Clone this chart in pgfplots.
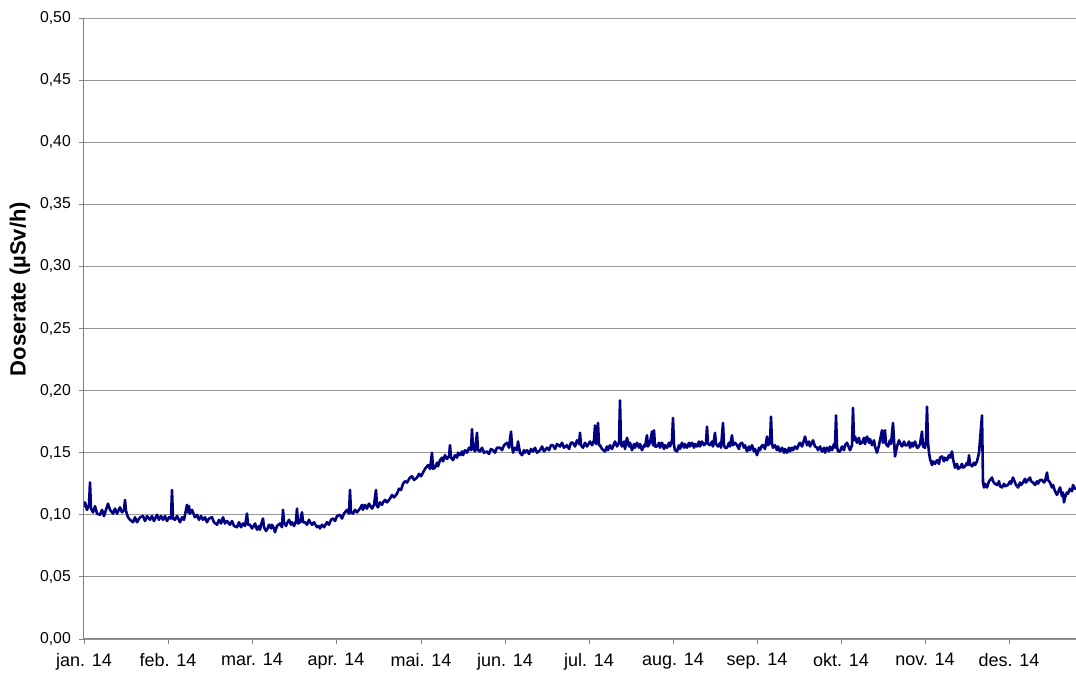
\documentclass[border=0pt]{standalone}
\usepackage{pgfplots}
\pgfplotsset{compat=1.18}
\usepackage{pgfplotstable}
\usepackage{fontspec}
\setmainfont{Liberation Sans}
\definecolor{navyline}{RGB}{0,0,128}
\definecolor{gridgray}{RGB}{150,150,150}
\definecolor{axgray}{RGB}{128,128,128}

% x = time position (jan. 14 = 84, one month = 84.1), y = dose rate in microSv/h
\pgfplotstableread{
x y
84 0.106
85 0.110
87 0.104
89 0.108
90 0.126
91 0.105
93 0.102
95 0.107
97 0.101
100 0.100
102 0.104
104 0.099
106 0.104
108 0.109
110 0.104
113 0.101
115 0.105
117 0.101
120 0.106
122 0.102
124 0.104
125 0.112
126 0.103
128 0.098
130 0.096
133 0.094
135 0.098
137 0.094
140 0.098
143 0.099
145 0.095
147 0.099
150 0.096
152 0.099
154 0.095
157 0.100
159 0.096
161 0.099
163 0.096
165 0.099
167 0.095
169 0.098
171 0.097
172 0.120
173 0.097
175 0.096
177 0.099
180 0.094
182 0.098
184 0.096
186 0.104
187 0.108
188 0.102
189 0.107
190 0.101
192 0.104
195 0.098
197 0.100
199 0.096
201 0.099
203 0.096
205 0.098
207 0.094
209 0.097
212 0.098
214 0.094
217 0.092
219 0.096
221 0.093
223 0.098
225 0.093
227 0.095
230 0.092
232 0.095
234 0.091
237 0.090
239 0.094
241 0.090
243 0.093
245 0.091
247 0.101
248 0.092
250 0.092
252 0.089
253 0.090
255 0.093
257 0.088
259 0.091
260 0.088
261 0.092
263 0.097
264 0.090
266 0.087
267 0.088
269 0.092
271 0.089
272 0.092
274 0.089
275 0.086
277 0.091
280 0.093
282 0.090
283 0.104
284 0.094
286 0.091
287 0.093
289 0.096
291 0.092
292 0.094
294 0.091
296 0.095
297 0.105
298 0.093
300 0.094
302 0.102
303 0.094
305 0.094
307 0.092
309 0.096
310 0.094
312 0.092
314 0.094
317 0.090
319 0.091
320 0.089
322 0.092
324 0.090
327 0.094
329 0.092
331 0.096
333 0.097
335 0.095
337 0.099
340 0.100
342 0.097
344 0.101
347 0.104
349 0.101
350 0.120
351 0.102
353 0.101
355 0.104
357 0.102
360 0.105
362 0.108
363 0.104
365 0.108
367 0.105
369 0.109
372 0.105
374 0.108
376 0.120
377 0.107
378 0.106
380 0.110
382 0.108
383 0.110
385 0.112
387 0.110
390 0.113
392 0.116
394 0.114
397 0.117
399 0.121
401 0.120
403 0.125
405 0.127
407 0.126
410 0.130
412 0.131
414 0.128
417 0.130
419 0.133
421 0.131
423 0.134
425 0.137
428 0.140
430 0.137
432 0.150
433 0.137
435 0.138
437 0.142
438 0.139
440 0.144
442 0.146
443 0.143
445 0.148
447 0.145
449 0.147
450 0.156
451 0.146
453 0.144
455 0.148
457 0.146
458 0.150
460 0.148
462 0.151
463 0.148
465 0.152
467 0.150
469 0.154
471 0.152
472 0.169
473 0.154
475 0.151
477 0.166
478 0.152
480 0.151
482 0.154
484 0.150
487 0.151
489 0.149
491 0.153
493 0.152
495 0.150
497 0.154
500 0.154
502 0.152
504 0.156
507 0.158
509 0.154
511 0.167
512 0.156
513 0.150
515 0.154
517 0.152
518 0.159
520 0.150
522 0.148
524 0.152
525 0.150
527 0.152
529 0.149
531 0.153
533 0.151
535 0.154
537 0.150
540 0.152
542 0.155
544 0.151
547 0.154
549 0.152
551 0.156
553 0.156
555 0.153
557 0.157
560 0.155
562 0.158
564 0.154
567 0.156
569 0.153
571 0.158
573 0.158
575 0.155
577 0.160
579 0.157
580 0.166
581 0.156
583 0.154
585 0.158
587 0.155
590 0.159
592 0.156
594 0.160
595 0.172
596 0.157
597 0.160
598 0.174
599 0.156
600 0.156
602 0.153
605 0.151
607 0.155
608 0.152
610 0.156
612 0.153
614 0.157
615 0.159
617 0.155
619 0.158
620 0.192
621 0.157
622 0.155
624 0.159
625 0.153
627 0.162
629 0.155
630 0.158
632 0.152
634 0.157
635 0.154
637 0.158
639 0.154
640 0.157
642 0.152
644 0.156
645 0.155
647 0.164
648 0.155
650 0.158
652 0.167
653 0.156
654 0.168
655 0.155
657 0.155
659 0.158
660 0.154
662 0.158
664 0.153
665 0.156
667 0.154
669 0.158
670 0.155
672 0.160
673 0.178
674 0.156
675 0.152
677 0.151
679 0.156
680 0.153
682 0.158
684 0.154
685 0.157
687 0.154
689 0.158
690 0.155
692 0.158
694 0.154
695 0.157
697 0.155
699 0.159
700 0.155
702 0.159
704 0.156
706 0.158
707 0.171
708 0.157
710 0.156
712 0.159
713 0.155
715 0.166
716 0.157
718 0.155
720 0.158
721 0.154
723 0.174
724 0.156
725 0.154
727 0.154
729 0.158
730 0.155
732 0.164
733 0.156
735 0.158
737 0.156
739 0.153
740 0.157
742 0.158
744 0.154
745 0.156
747 0.151
749 0.155
750 0.152
752 0.156
754 0.151
755 0.153
757 0.148
759 0.154
760 0.152
762 0.156
763 0.156
765 0.153
767 0.163
768 0.156
770 0.158
771 0.179
772 0.157
773 0.154
775 0.156
777 0.152
778 0.155
780 0.151
782 0.154
784 0.150
785 0.153
787 0.150
789 0.154
790 0.151
792 0.154
793 0.152
795 0.155
797 0.153
799 0.157
800 0.158
802 0.155
804 0.160
805 0.163
807 0.156
809 0.159
810 0.155
812 0.158
813 0.160
815 0.155
817 0.154
818 0.152
820 0.155
822 0.151
824 0.154
825 0.150
827 0.154
829 0.151
830 0.155
832 0.152
834 0.157
835 0.154
836 0.180
837 0.155
838 0.151
840 0.151
842 0.155
844 0.152
845 0.156
847 0.158
849 0.154
850 0.152
852 0.156
853 0.186
854 0.160
855 0.163
857 0.158
859 0.162
860 0.157
862 0.158
864 0.162
865 0.157
867 0.163
869 0.158
870 0.161
872 0.156
874 0.160
875 0.155
877 0.150
879 0.156
880 0.160
882 0.168
883 0.158
884 0.161
885 0.168
886 0.157
888 0.155
890 0.160
891 0.157
893 0.174
894 0.160
895 0.147
897 0.155
899 0.160
900 0.158
902 0.155
904 0.159
905 0.156
907 0.156
909 0.159
910 0.154
912 0.158
913 0.155
915 0.159
917 0.154
918 0.154
920 0.157
922 0.167
923 0.155
925 0.154
926 0.160
927 0.187
928 0.158
929 0.150
930 0.145
932 0.140
933 0.143
935 0.141
937 0.144
939 0.141
940 0.146
942 0.147
944 0.143
945 0.146
947 0.144
949 0.148
950 0.146
952 0.151
953 0.145
955 0.138
957 0.141
958 0.137
960 0.138
962 0.141
963 0.138
965 0.139
967 0.142
968 0.140
969 0.148
970 0.141
972 0.139
974 0.142
975 0.140
977 0.143
979 0.150
980 0.160
981 0.170
982 0.180
983 0.126
984 0.122
985 0.125
987 0.122
989 0.127
990 0.128
992 0.130
993 0.127
995 0.125
997 0.124
999 0.127
1000 0.123
1002 0.122
1004 0.125
1005 0.123
1008 0.124
1010 0.127
1011 0.125
1013 0.130
1015 0.126
1016 0.124
1018 0.122
1020 0.126
1021 0.124
1023 0.126
1025 0.129
1026 0.126
1028 0.128
1030 0.130
1031 0.127
1033 0.126
1035 0.124
1037 0.127
1038 0.125
1040 0.128
1042 0.128
1044 0.126
1045 0.127
1047 0.134
1048 0.128
1050 0.126
1052 0.122
1053 0.124
1055 0.119
1057 0.116
1059 0.120
1060 0.122
1062 0.115
1063 0.118
1064 0.110
1065 0.114
1067 0.118
1068 0.117
1070 0.121
1072 0.119
1073 0.124
1075 0.121
1076 0.122
}\doserate

\begin{document}
\begin{tikzpicture}
\begin{axis}[
  at={(0pt,0pt)}, anchor=south west,
  scale only axis,
  width=992pt, height=621pt,
  xmin=84, xmax=1076, ymin=0, ymax=0.5,
  enlargelimits=false,
  axis x line*=bottom, axis y line*=left,
  axis line style={-, draw=axgray, line width=1pt},
  xtick={84,168,252,336,421,505,589,673,757,841,925,1009},
  xticklabels={jan. 14,feb. 14,mar. 14,apr. 14,mai. 14,jun. 14,jul. 14,aug. 14,sep. 14,okt. 14,nov. 14,des. 14},
  ytick={0,0.05,...,0.51},
  tick align=outside,
  major tick length=5pt,
  tick style={draw=axgray, line width=0.8pt},
  ymajorgrids,
  major grid style={draw=gridgray, line width=0.9pt},
  /pgf/number format/assume math mode=true,
  /pgf/number format/fixed,
  /pgf/number format/fixed zerofill,
  /pgf/number format/precision=2,
  /pgf/number format/use comma,
  yticklabel style={font=\fontsize{15.8}{18}\selectfont, inner sep=0pt, xshift=-8pt},
  xticklabel style={font=\fontsize{18}{21}\selectfont, inner sep=0pt, yshift=-9pt},
  ylabel={Doserate (µSv/h)},
  every axis y label/.style={at={(axis description cs:-0.0645,0.5636)}, rotate=90, anchor=center, font=\fontsize{22}{25}\selectfont\bfseries},
  clip=true,
]
\addplot[navyline, line width=2.6pt, line join=round] table[x=x, y=y] {\doserate};
\end{axis}
\pgfresetboundingbox
\path[use as bounding box] (-84pt,-35pt) rectangle (992pt,639pt);
\end{tikzpicture}
\end{document}
